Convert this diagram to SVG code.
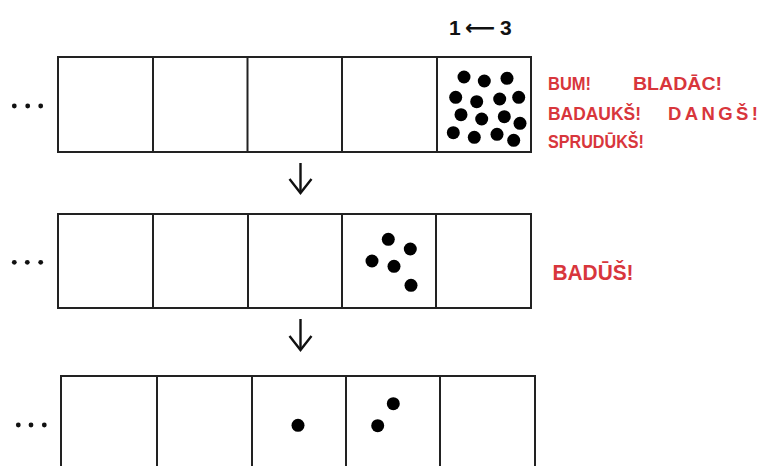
<svg xmlns="http://www.w3.org/2000/svg" width="769" height="466" viewBox="0 0 769 466">
<style>
.box{fill:#fff;stroke:#222;stroke-width:2}
.div{stroke:#222;stroke-width:2}
.dot{fill:#000}
.ell{fill:#111}
.red{fill:#d8363c;font-family:"Liberation Sans",Arial,sans-serif;font-weight:bold;font-size:18.5px}
.lbl{fill:#111;font-family:"Liberation Sans",Arial,sans-serif;font-weight:bold;font-size:21px}
.conn{stroke:#111;stroke-width:2.4;fill:none}
</style>
<defs>
<marker id="head" markerUnits="userSpaceOnUse" markerWidth="30" markerHeight="30" refX="15" refY="15" orient="auto">
<path d="M1,4 L15,15 L1,26" fill="none" stroke="#111" stroke-width="2.4" stroke-linejoin="miter"/>
</marker>
</defs>
<rect width="769" height="466" fill="#fff"/>

<text class="lbl" x="449" y="35">1<tspan x="465" font-family="DejaVu Sans">⟵</tspan><tspan x="500">3</tspan></text>

<g id="row1">
<rect class="box" x="58" y="57" width="473" height="95"/>
<line class="div" x1="153" y1="57" x2="153" y2="152"/>
<line class="div" x1="247.5" y1="57" x2="247.5" y2="152"/>
<line class="div" x1="342" y1="57" x2="342" y2="152"/>
<line class="div" x1="437" y1="57" x2="437" y2="152"/>
<g class="dot">
<circle cx="464" cy="77" r="6.5"/><circle cx="484.3" cy="81" r="6.5"/><circle cx="507" cy="78.3" r="6.5"/>
<circle cx="455.7" cy="97.3" r="6.5"/><circle cx="476.7" cy="101.7" r="6.5"/><circle cx="499.7" cy="99" r="6.5"/><circle cx="518.7" cy="97.3" r="6.5"/>
<circle cx="461" cy="114.7" r="6.5"/><circle cx="481.7" cy="119" r="6.5"/><circle cx="504.3" cy="116.7" r="6.5"/><circle cx="520" cy="123.3" r="6.5"/>
<circle cx="453.3" cy="132.7" r="6.5"/><circle cx="474.3" cy="137.3" r="6.5"/><circle cx="497" cy="134.3" r="6.5"/><circle cx="513.7" cy="140.3" r="6.5"/>
</g>
<g class="ell"><circle cx="14.3" cy="106" r="2.4"/><circle cx="27.7" cy="106" r="2.4"/><circle cx="40.7" cy="106" r="2.4"/></g>
</g>

<g id="row2">
<rect class="box" x="58" y="214" width="473" height="94"/>
<line class="div" x1="153" y1="214" x2="153" y2="308"/>
<line class="div" x1="248" y1="214" x2="248" y2="308"/>
<line class="div" x1="342" y1="214" x2="342" y2="308"/>
<line class="div" x1="436" y1="214" x2="436" y2="308"/>
<g class="dot">
<circle cx="388.3" cy="239.3" r="6.5"/><circle cx="410.3" cy="249" r="6.5"/><circle cx="372" cy="261" r="6.5"/><circle cx="394" cy="266.3" r="6.5"/><circle cx="411" cy="285.3" r="6.5"/>
</g>
<g class="ell"><circle cx="14.3" cy="262.3" r="2.4"/><circle cx="27.3" cy="262.3" r="2.4"/><circle cx="40.7" cy="262.3" r="2.4"/></g>
</g>

<g id="row3">
<rect class="box" x="61" y="376" width="474" height="100"/>
<line class="div" x1="157" y1="376" x2="157" y2="476"/>
<line class="div" x1="252" y1="376" x2="252" y2="476"/>
<line class="div" x1="346" y1="376" x2="346" y2="476"/>
<line class="div" x1="440" y1="376" x2="440" y2="476"/>
<g class="dot">
<circle cx="298" cy="425.3" r="6.5"/><circle cx="393.3" cy="403.7" r="6.5"/><circle cx="377.7" cy="425.7" r="6.5"/>
</g>
<g class="ell"><circle cx="18.3" cy="425" r="2.4"/><circle cx="31" cy="425" r="2.4"/><circle cx="44.3" cy="425" r="2.4"/></g>
</g>

<g id="sounds1">
<text class="red" x="548" y="90" textLength="43" lengthAdjust="spacingAndGlyphs">BUM!</text>
<text class="red" x="633" y="90" textLength="89" lengthAdjust="spacingAndGlyphs">BLADĀC!</text>
<text class="red" x="548" y="120" textLength="93" lengthAdjust="spacingAndGlyphs">BADAUKŠ!</text>
<text class="red" x="668" y="120" textLength="90">DANGŠ!</text>
<text class="red" x="548" y="147.5" textLength="96" lengthAdjust="spacingAndGlyphs">SPRUDŪKŠ!</text>
</g>
<g id="sounds2">
<text class="red" x="552.5" y="280" style="font-size:22.5px" textLength="81" lengthAdjust="spacingAndGlyphs">BADŪŠ!</text>
</g>

<g id="connectors">
<line class="conn" x1="300.5" y1="163" x2="300.5" y2="193" marker-end="url(#head)"/>
<line class="conn" x1="300.5" y1="319" x2="300.5" y2="350" marker-end="url(#head)"/>
</g>
</svg>
